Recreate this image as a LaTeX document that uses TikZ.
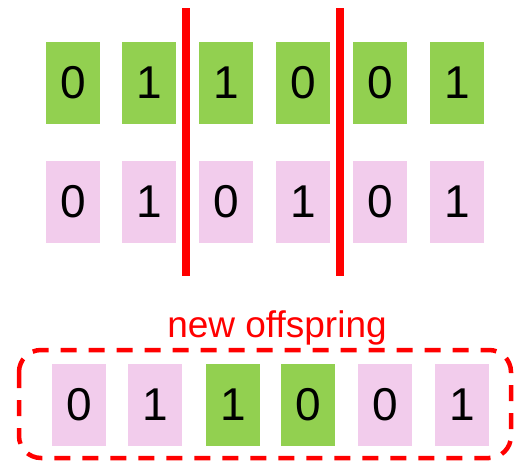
\documentclass[tikz,border=0pt]{standalone}
\usepackage{fontspec}
\setmainfont{Liberation Sans}
\definecolor{gbox}{HTML}{92D050}
\definecolor{pbox}{HTML}{F2CCEC}
\definecolor{cred}{HTML}{FF0000}
\tikzset{
  bit/.style={minimum width=54pt,minimum height=82pt,inner sep=0pt,outer sep=0pt,font=\fontsize{46}{46}\selectfont,text=black},
  gbit/.style={bit,fill=gbox},
  pbit/.style={bit,fill=pbox},
  cutline/.style={draw=cred,line width=8pt},
  offbox/.style={draw=cred,line width=4.5pt,dash pattern=on 16pt off 12pt,rounded corners=22pt}
}
\begin{document}
\begin{tikzpicture}[x=1pt,y=-1pt]
\useasboundingbox (0,0) rectangle (514,461);
% top row (green)
\node[gbit] (g1) at (73,83) {0};
\node[gbit] (g2) at (149,83) {1};
\node[gbit] (g3) at (226,83) {1};
\node[gbit] (g4) at (303,83) {0};
\node[gbit] (g5) at (380,83) {0};
\node[gbit] (g6) at (457,83) {1};
% second row (pink)
\node[pbit] (p1) at (73,202) {0};
\node[pbit] (p2) at (149,202) {1};
\node[pbit] (p3) at (226,202) {0};
\node[pbit] (p4) at (303,202) {1};
\node[pbit] (p5) at (380,202) {0};
\node[pbit] (p6) at (457,202) {1};
% cut lines
\coordinate (c1t) at (186,8);
\coordinate (c1b) at (186,276);
\coordinate (c2t) at (340,8);
\coordinate (c2b) at (340,276);
\draw[cutline] (c1t) -- (c1b);
\draw[cutline] (c2t) -- (c2b);
% offspring
\node[text=cred,font=\fontsize{37}{37}\selectfont,anchor=base] (lbl) at (277,337) {new offspring};
\coordinate (bx1) at (19,350);
\coordinate (bx2) at (511,458);
\draw[offbox] (bx1) rectangle (bx2);
\node[pbit] (o1) at (79,404.5) {0};
\node[pbit] (o2) at (155,404.5) {1};
\node[gbit] (o3) at (233,404.5) {1};
\node[gbit] (o4) at (308,404.5) {0};
\node[pbit] (o5) at (385,404.5) {0};
\node[pbit] (o6) at (462,404.5) {1};
\end{tikzpicture}
\end{document}
